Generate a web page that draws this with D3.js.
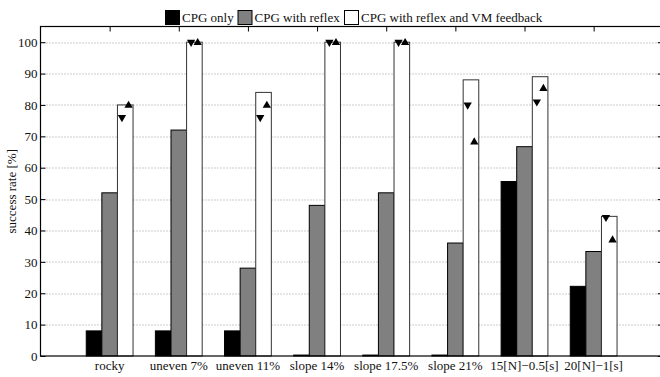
<!DOCTYPE html>
<html>
<head>
<meta charset="utf-8">
<script src="https://cdn.jsdelivr.net/npm/d3@7"></script>
<style>
  body { margin: 0; background: #fff; overflow: hidden; }
  text { font-family: "Liberation Serif", "Times New Roman", serif; fill: #111; }
</style>
</head>
<body>
<svg class="chart" width="660" height="377"></svg>
<script>
// data
var categories = ["rocky", "uneven 7%", "uneven 11%", "slope 14%", "slope 17.5%", "slope 21%", "15[N]\u22120.5[s]", "20[N]\u22121[s]"];
var seriesNames = ["CPG only", "CPG with reflex", "CPG with reflex and VM feedback"];
var cpgOnly = [8, 8, 8, 0.3, 0.3, 0.3, 55.6, 22.2];
var cpgReflex = [52, 72, 28, 48, 52, 36, 66.7, 33.3];
var cpgReflexVM = [80, 100, 84, 100, 100, 88, 89, 44.5];
var markDown = [76, 100, 76, 100, 100, 80, 81, 44.2];
var markUp = [80, 100, 80, 100, 100, 68.3, 85.4, 37.1];
var yTicks = [0, 10, 20, 30, 40, 50, 60, 70, 80, 90, 100];

var fills = ["#000000", "#808080", "#ffffff"];
var series = [cpgOnly, cpgReflex, cpgReflexVM];

var svg = d3.select(".chart").attr("overflow", "hidden"),
    margin = {top: 26.5, left: 40.5},
    width = 622.3,   // the right edge of the axes box falls just outside the picture
    height = 329.5,
    g = svg.append("g").attr("transform", "translate(" + margin.left + "," + margin.top + ")");

var x = d3.scaleLinear()
    .domain([0, categories.length + 1])
    .range([0, width]);

var y = d3.scaleLinear()
    .domain([0, 105])
    .range([height, 0]);

var bw = 0.2256; // bar width in category units

// dotted grid
g.append("g")
  .selectAll("line")
  .data(yTicks.filter(function(d) { return d > 0; }))
  .enter().append("line")
    .attr("x1", 0)
    .attr("x2", width)
    .attr("y1", function(d) { return Math.round(y(d)) + 0.5; })
    .attr("y2", function(d) { return Math.round(y(d)) + 0.5; })
    .attr("stroke", "#9a9a9a")
    .attr("stroke-width", 1)
    .attr("stroke-dasharray", "1,2");

// bars
series.forEach(function(vals, j) {
  g.append("g")
    .selectAll("rect")
    .data(vals)
    .enter().append("rect")
      .attr("x", function(d, i) { return x(i + 1 + (j - 1) * bw - bw / 2); })
      .attr("width", x(bw) - x(0))
      .attr("y", function(d) { return y(d); })
      .attr("height", function(d) { return y(0) - y(d); })
      .attr("fill", fills[j])
      .attr("stroke", j == 2 ? "#333" : "#000")
      .attr("stroke-width", 1);
});

// min / max markers on the VM feedback bars
var tri = d3.symbol().type(d3.symbolTriangle).size(30);

g.append("g")
  .selectAll("path")
  .data(markDown)
  .enter().append("path")
    .attr("d", tri)
    .attr("transform", function(d, i) {
      return "translate(" + (x(i + 1 + bw) - 3.3) + "," + y(d) + ") rotate(180)";
    })
    .attr("fill", "#000");

g.append("g")
  .selectAll("path")
  .data(markUp)
  .enter().append("path")
    .attr("d", tri)
    .attr("transform", function(d, i) {
      return "translate(" + (x(i + 1 + bw) + 3.3) + "," + (y(d) + 0.5) + ")";
    })
    .attr("fill", "#000");

// box
g.append("rect")
    .attr("x", 0)
    .attr("y", 0)
    .attr("width", width)
    .attr("height", height)
    .attr("fill", "none")
    .attr("stroke", "#000")
    .attr("stroke-width", 1.2);

// y axis, ticks inside
var yAxis = g.append("g")
    .call(d3.axisLeft(y).tickValues(yTicks).tickSize(-5).tickPadding(3));
yAxis.select(".domain").remove();
yAxis.selectAll("line").attr("stroke", "#000");
yAxis.selectAll("text")
    .style("font-family", "Liberation Serif, serif")
    .style("font-size", "13px")
    .attr("fill", "#111");

g.append("g")
    .attr("transform", "translate(" + width + ",0)")
    .call(d3.axisRight(y).tickValues(yTicks).tickSize(-5).tickFormat(""))
  .select(".domain").remove();

// top ticks
g.append("g")
    .call(d3.axisTop(x).tickValues(d3.range(1, categories.length + 1)).tickSize(-5).tickFormat(""))
  .select(".domain").remove();

// category labels
g.append("g")
  .selectAll("text")
  .data(categories)
  .enter().append("text")
    .attr("x", function(d, i) { return x(i + 1); })
    .attr("y", height + 13.5)
    .attr("text-anchor", "middle")
    .style("font-size", "13px")
    .text(function(d) { return d; });

// y label
svg.append("text")
    .attr("transform", "translate(16," + (margin.top + height / 2) + ") rotate(-90)")
    .attr("text-anchor", "middle")
    .style("font-size", "13px")
    .text("success rate [%]");

// legend
var legendX = [165, 237.5, 344];
var legend = svg.append("g")
  .selectAll("g")
  .data(seriesNames)
  .enter().append("g")
    .attr("transform", function(d, i) { return "translate(" + legendX[i] + ",10)"; });

legend.append("rect")
    .attr("x", 0.5)
    .attr("y", 0.5)
    .attr("width", 14)
    .attr("height", 14)
    .attr("fill", function(d, i) { return fills[i]; })
    .attr("stroke", "#000");

legend.append("text")
    .attr("x", 17)
    .attr("y", 11.5)
    .style("font-size", "13px")
    .text(function(d) { return d; });
</script>
</body>
</html>
